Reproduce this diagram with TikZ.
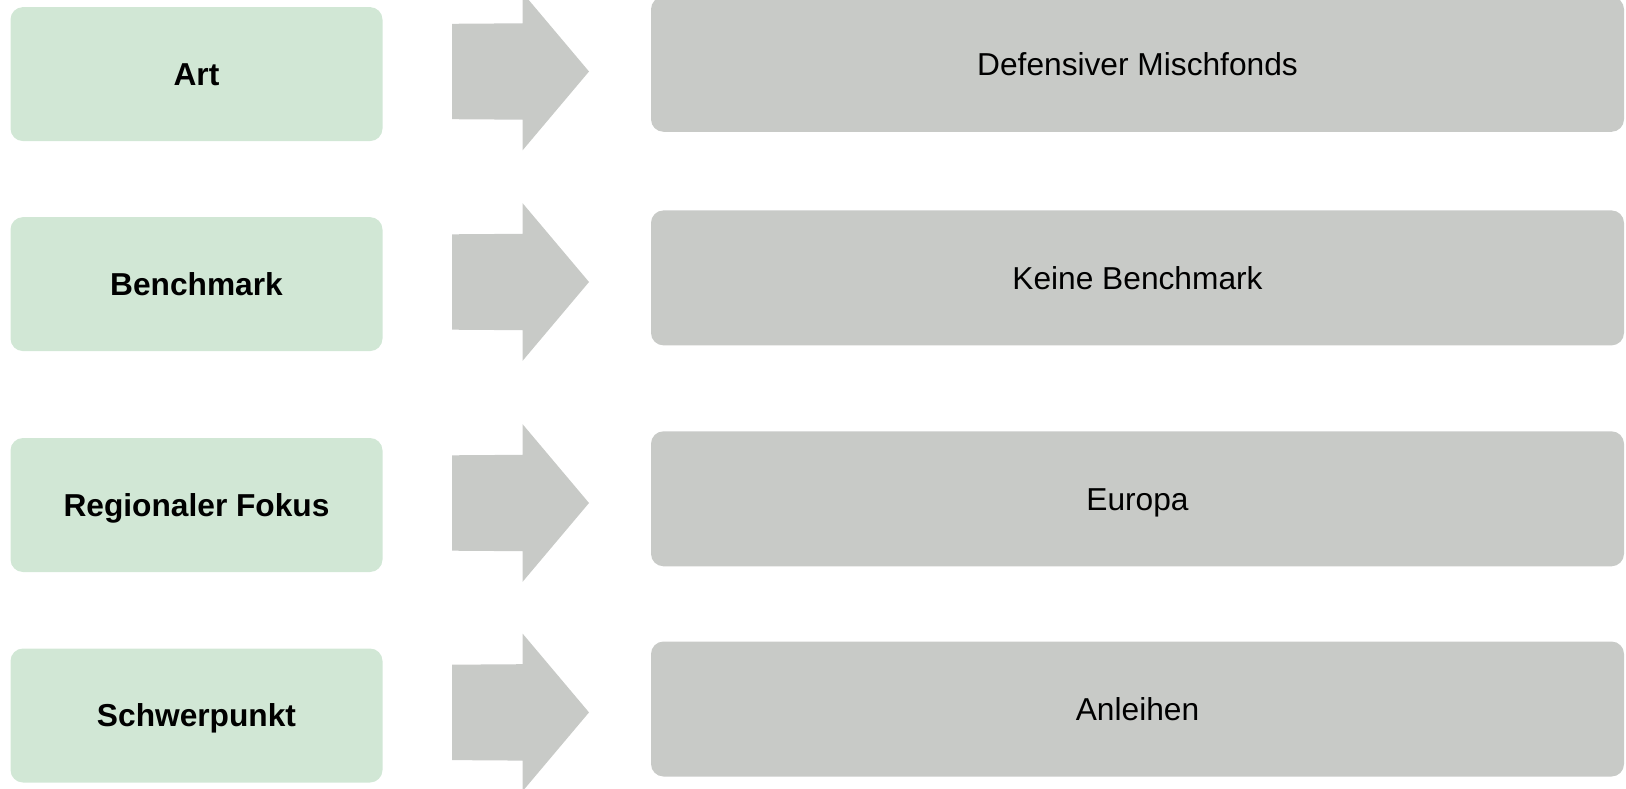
\documentclass[tikz,border=0pt]{standalone}
\usepackage{fontspec}
\setmainfont{Liberation Sans}
\definecolor{boxgreen}{RGB}{209,231,213}
\definecolor{boxgray}{RGB}{200,202,199}
\begin{document}
\begin{tikzpicture}[x=1pt,y=-1pt,
  lbl/.style={fill=boxgreen, rounded corners=12.5pt, minimum width=372pt, minimum height=134pt, inner sep=0pt, text height=22.7pt, text depth=0pt, font=\fontsize{31.7}{38}\selectfont\bfseries, text=black},
  val/.style={fill=boxgray, rounded corners=12.5pt, minimum width=973pt, minimum height=135pt, inner sep=0pt, text height=22.7pt, text depth=0pt, font=\fontsize{31.7}{38}\selectfont, text=black},
  arr/.style={fill=boxgray}]
\useasboundingbox (0,0) rectangle (1626,789);
\clip (0,0) rectangle (1626,789);
\foreach \n/\gy/\vy/\ay/\l/\v in {a/74.1/64.3/71.5/Art/Defensiver Mischfonds, b/284.1/277.9/282/Benchmark/Keine Benchmark, c/505/498.8/503/Regionaler Fokus/Europa, d/715.5/709/712.4/Schwerpunkt/Anleihen}{
  \node[lbl] (l\n) at (196.5,\gy) {\l};
  \node[val] (v\n) at (1137.5,\vy) {\v};
  \fill[arr] (452,\ay-47.7) -- (522.6,\ay-48.2) -- (522.6,\ay-78.8) -- (589,\ay) -- (522.6,\ay+78.8) -- (522.6,\ay+48.2) -- (452,\ay+47.7) -- cycle;
}
\end{tikzpicture}
\end{document}
